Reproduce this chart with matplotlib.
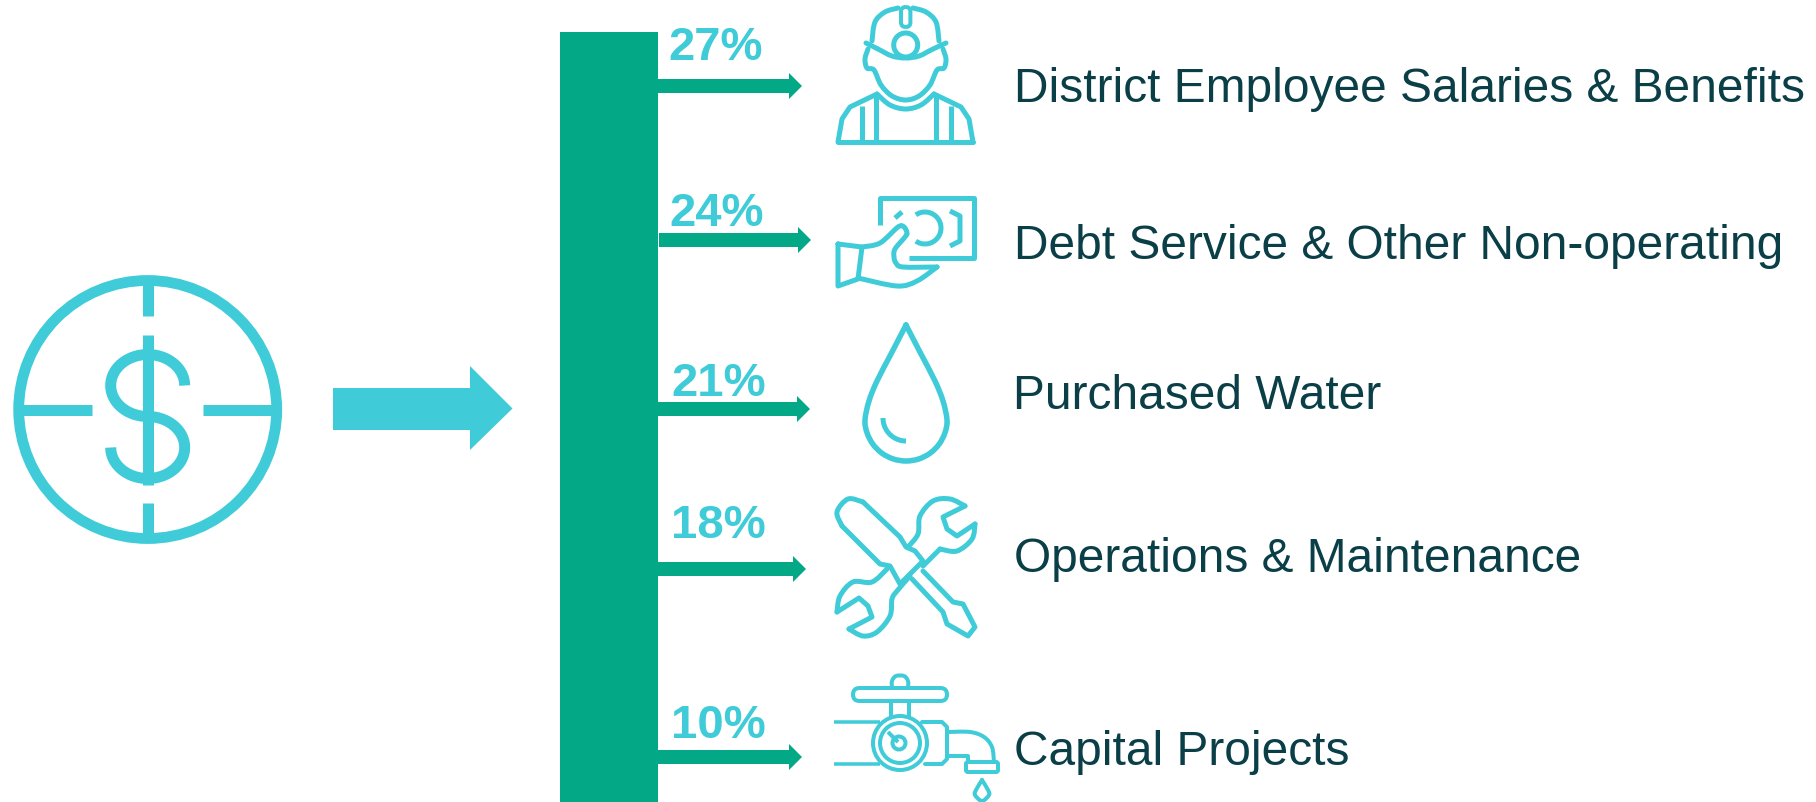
import matplotlib
matplotlib.use('Agg')
import numpy as np
import matplotlib.pyplot as plt
from matplotlib.patches import Circle, Rectangle, Polygon, PathPatch, FancyBboxPatch
from matplotlib.path import Path

# Share of spending per category
percents = [27, 24, 21, 18, 10]
categories = ['District Employee Salaries & Benefits',
              'Debt Service & Other Non-operating',
              'Purchased Water',
              'Operations & Maintenance',
              'Capital Projects']

TEAL = '#3FCCD8'
GREEN = '#03A886'
DARK = '#0B3F47'

arrow_y = [87, 241, 410, 570, 758]
arrow_x0 = [658, 659, 658, 658, 658]
arrow_x1 = [802, 811, 810, 806, 802]
pct_x = [715.5, 717, 719, 718.5, 718]
pct_y = [60, 226, 396, 538, 738]
text_x = [1014, 1014, 1013, 1014, 1014]
text_y = [102, 259, 409, 572, 765]

plt.rcParams['font.family'] = ['Liberation Sans', 'DejaVu Sans']

fig = plt.figure(figsize=(18.16, 8.03), dpi=100)
ax = fig.add_axes([0, 0, 1, 1])
ax.set_xlim(0, 1816)
ax.set_ylim(803, 0)
ax.axis('off')


def stroke(pts, w=5.0, smooth=False, cap='round', closed=False):
    # w is in pixels; smooth runs a Catmull-Rom spline through the points
    pts = np.array(pts, dtype=float)
    if smooth:
        verts = [pts[0]]
        codes = [Path.MOVETO]
        n = len(pts)
        for i in range(n - 1):
            if closed:
                p0 = pts[(i - 1) % (n - 1)]
                p3 = pts[(i + 2) % (n - 1)]
            else:
                p0 = pts[max(i - 1, 0)]
                p3 = pts[min(i + 2, n - 1)]
            p1, p2 = pts[i], pts[i + 1]
            verts += [p1 + (p2 - p0) / 6, p2 - (p3 - p1) / 6, p2]
            codes += [Path.CURVE4] * 3
        p = Path(verts, codes)
    else:
        p = Path(pts)
    ax.add_patch(PathPatch(p, fill=False, edgecolor=TEAL, lw=w * 0.72,
                           capstyle=cap, joinstyle='round'))


def arc_pts(cx, cy, rx, ry, a0, a1, n=50):
    # angles in degrees, y axis points down so they run clockwise on screen
    t = np.radians(np.linspace(a0, a1, n))
    return np.column_stack([cx + rx * np.cos(t), cy + ry * np.sin(t)])


def ring(cx, cy, r, w=5.0):
    ax.add_patch(Circle((cx, cy), r, fill=False, edgecolor=TEAL, lw=w * 0.72))


def pill(x, y, width, height, rad, w=4.0):
    ax.add_patch(FancyBboxPatch((x + rad, y + rad), width - 2 * rad, height - 2 * rad,
                                boxstyle='round,pad=%f,rounding_size=%f' % (rad, rad),
                                fill=False, edgecolor=TEAL, lw=w * 0.72))


def dollar_icon():
    cx, cy = 147.7, 410.5
    ring(cx, cy, 129, 10.8)
    for seg in [[(cx, 281), (cx, 317)], [(cx, 504), (cx, 540)], [(18, cy), (92, cy)],
                [(203, cy), (277, cy)], [(cx, 336), (cx, 486)]]:
        stroke(seg, 11, cap='butt')
    stroke(arc_pts(cx, 386.5, 37, 31, 0, -270), 11, cap='butt')
    stroke(arc_pts(cx, 448.5, 37, 31, -90, 180), 11, cap='butt')


def worker_icon():
    cx = 905.7
    # helmet
    stroke([(872, 42), (875, 23), (885, 13), (898, 9)], smooth=True)
    stroke([(939, 42), (936, 23), (926, 13), (913, 9)], smooth=True)
    pill(901, 8, 9.4, 20, 4.7)
    ring(cx, 46, 12)
    stroke([(866, 44), (878, 50), (892, 57), (cx, 59), (919, 57), (933, 50), (946, 44)], smooth=True)
    # face
    stroke([(868, 50), (865, 60), (867, 69), (874, 71), (881, 86), (892, 97), (cx, 101),
            (919, 97), (930, 86), (937, 71), (944, 69), (946, 60), (943, 50)], smooth=True)
    # shoulders
    stroke([(838, 143), (842, 120), (850, 108), (877, 95)])
    stroke([(973, 143), (969, 120), (961, 108), (934, 95)])
    stroke([(877, 95), (890, 106), (cx, 110), (921, 106), (934, 95)], smooth=True)
    stroke([(838, 143), (973, 143)])
    for x, y0 in [(862, 107), (876, 97), (936, 97), (951, 107)]:
        stroke([(x, y0), (x, 142)], cap='butt')


def money_icon():
    stroke([(880, 226), (880, 199), (974, 199), (974, 259), (909, 259)], cap='butt')
    stroke(arc_pts(925, 229, 16, 16, -125, 125), cap='butt')
    stroke([(895, 219), (902, 213)], cap='butt')
    stroke([(950, 212), (960, 217), (960, 242), (950, 247)], cap='butt')
    # cuff and hand
    stroke([(838, 245), (838, 287), (858, 280), (862, 248), (838, 245)])
    stroke([(862, 248), (880, 244), (898, 228), (904, 228), (907, 234), (905, 238), (895, 250),
            (894, 258), (896, 264), (903, 268), (937, 268)], smooth=True)
    stroke([(937, 268), (917, 282), (897, 287), (858, 279)], smooth=True)


def drop_icon():
    left = [(906, 326), (891, 355), (877, 382), (869, 402)]
    right = [(943, 402), (935, 382), (921, 355), (906, 326)]
    bottom = [tuple(p) for p in arc_pts(906, 421, 41, 41, 180, 0, 11)]
    stroke(left + bottom + right, 5.5, smooth=True)
    stroke(arc_pts(906, 419, 23, 23, 180, 90), cap='butt')


def tools_icon():
    # screwdriver handle
    stroke([(863, 503), (900, 538), (906, 548), (915, 552), (923, 562), (900, 585), (890, 567),
            (880, 565), (842, 527)])
    stroke([(842, 527), (837, 513), (848, 500), (863, 503)], smooth=True)
    # screwdriver blade
    stroke([(923, 572), (953, 603), (963, 605), (975, 628), (968, 637), (947, 625), (943, 613),
            (912, 580)])
    # wrench, upper half
    stroke([(908, 548), (918, 535), (920, 517), (933, 502), (950, 500), (965, 507)], smooth=True)
    stroke([(965, 507), (943, 518), (947, 530), (957, 537), (975, 525)])
    stroke([(975, 525), (972, 540), (957, 552), (940, 550)], smooth=True)
    stroke([(940, 550), (923, 567)])
    # wrench, lower half
    stroke([(910, 577), (897, 592), (892, 600), (890, 617), (877, 633), (863, 637), (849, 630)], smooth=True)
    stroke([(849, 630), (872, 618), (868, 607), (859, 599), (837, 613)])
    stroke([(837, 613), (840, 597), (853, 583), (872, 583), (887, 570)], smooth=True)


def valve_icon():
    pill(853, 689, 94, 13, 6.5)
    stroke([(892, 689), (892, 682), (896, 677), (904, 677), (908, 682), (908, 689)], 4, smooth=True)
    stroke([(891, 702), (891, 718)], 4, cap='butt')
    stroke([(909, 702), (909, 718)], 4, cap='butt')
    stroke([(834, 723), (880, 723)], 3.5, cap='butt')
    stroke([(834, 765), (880, 765)], 3.5, cap='butt')
    ring(900, 744, 27, 4)
    ring(900, 744, 20, 4)
    ring(899, 744, 6.5, 4)
    stroke([(888, 733), (898, 743)], 4, cap='butt')
    stroke([(922, 723), (942, 723), (947, 728), (947, 760), (942, 765), (925, 765)], 4)
    stroke([(947, 733), (970, 733), (984, 738), (992, 748), (994, 763)], 4, smooth=True)
    stroke([(947, 757), (968, 757), (968, 763)], 4)
    pill(966, 763, 32, 10, 2)
    stroke([(982, 781), (976, 791), (975, 796), (982, 802), (989, 796), (988, 791), (982, 781)], 4, smooth=True)


dollar_icon()

# big arrow into the bar
ax.add_patch(Polygon([(333, 389), (470, 389), (470, 367), (512.5, 409.5), (470, 451), (470, 431), (333, 431)],
                     closed=True, facecolor=TEAL, edgecolor='none'))

# main column
ax.add_patch(Rectangle((560, 33), 98, 770, facecolor=GREEN, edgecolor='none'))

for i in range(len(percents)):
    y = arrow_y[i]
    x0, x1 = arrow_x0[i], arrow_x1[i]
    ax.add_patch(Polygon([(x0, y - 7), (x1 - 13, y - 7), (x1 - 13, y - 13), (x1, y), (x1 - 13, y + 13),
                          (x1 - 13, y + 7), (x0, y + 7)], closed=True, facecolor=GREEN, edgecolor='none'))
    ax.text(pct_x[i], pct_y[i], '%d%%' % percents[i], fontsize=34, fontweight='bold', color=TEAL,
            ha='center', va='baseline')
    ax.text(text_x[i], text_y[i], categories[i], fontsize=34.5, color=DARK, ha='left', va='baseline')

worker_icon()
money_icon()
drop_icon()
tools_icon()
valve_icon()

fig.savefig('out.png', dpi=100, facecolor='white')
